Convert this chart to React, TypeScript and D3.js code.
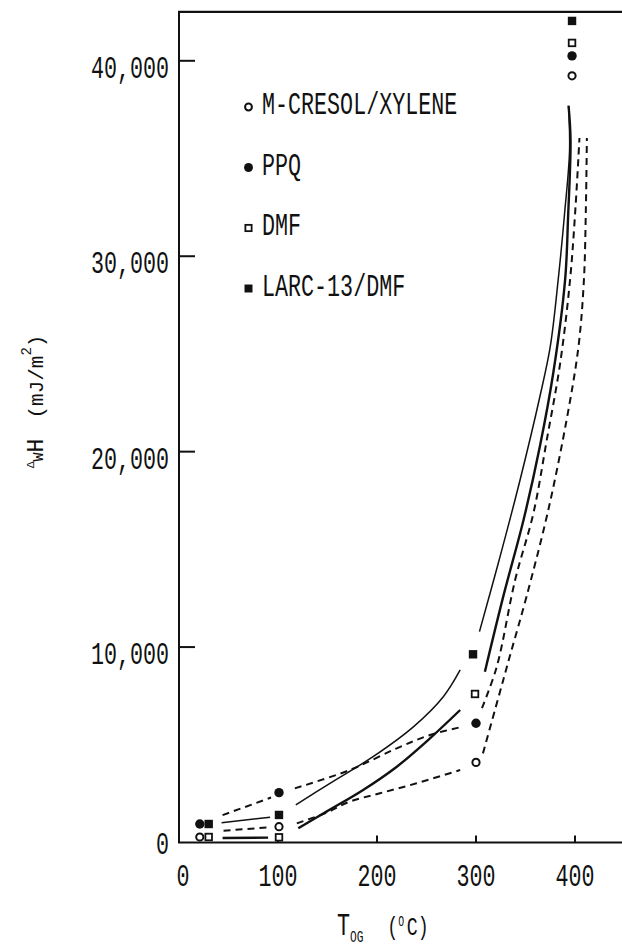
import React from "react";
import * as d3 from "d3";

// ---- data ----
const xTicks = [0, 100, 200, 300, 400];
const xTickLabels = ["0", "100", "200", "300", "400"];
const yTicks = [0, 10000, 20000, 30000, 40000];
const yTickLabels = ["0", "10,000", "20,000", "30,000", "40,000"];

const legendLabels = ["M-CRESOL/XYLENE", "PPQ", "DMF", "LARC-13/DMF"];
const legendKinds = ["openCircle", "filledCircle", "openSquare", "filledSquare"];

// measured points [T_OG, ΔwH]
const mCresolPts = [[21, 281], [101, 810], [300, 4100], [397, 39230]];
const ppqPts = [[21, 947], [101, 2550], [300, 6100], [397, 40250]];
const dmfPts = [[30, 281], [101, 265], [299, 7600], [397, 40915]];
const larcPts = [[30, 947], [101, 1410], [297, 9630], [397, 42040]];

// fitted curves, drawn as broken segments
const larcCurve = [
  [[43, 1013], [92, 1290]],
  [[118, 1920], [152.5, 3030], [196, 4390], [237, 5930], [267, 7460], [284, 8830]],
  [[303.5, 10790], [322.5, 14290], [344.5, 18550], [364.5, 22810], [375, 25370], [383, 28790], [389.5, 32200], [394.5, 35400], [393.5, 37700]],
];
const dmfCurve = [
  [[44, 230], [90, 250]],
  [[120.5, 725], [149, 1580], [186, 2690], [220, 3880], [253.5, 5330], [284, 6780]],
  [[309, 8740], [327.5, 12580], [348, 16500], [364.5, 20260], [378, 24010], [390, 28790], [393, 32000], [395.5, 35950], [393.5, 37700]],
];
const ppqCurve = [
  [[44, 1400], [93, 2300]],
  [[117, 2770], [172.5, 3710], [220, 4820], [253.5, 5500], [287, 5930]],
  [[306, 6870], [321, 9000], [339.5, 13430], [358, 16850], [371.5, 20600], [385, 24520], [395, 28790], [400.5, 32500], [404.5, 36050]],
];
const mCresolCurve = [
  [[45, 600], [92, 780]],
  [[119, 980], [149, 1530], [172.5, 2090], [203, 2520], [240, 3030], [284, 3710]],
  [[307, 4560], [322, 7300], [334, 9500], [351, 12580], [373, 17010], [391.5, 21620], [403.5, 25370], [409, 28790], [411, 32500], [412, 36050]],
];

const W = 622;
const H = 949;
const FONT = "'Liberation Mono', 'DejaVu Sans Mono', monospace";
const SX = 0.7;
const FS = 31;
const INK = "#111";

function Marker({ kind, cx, cy, s = 1 }: { kind: string; cx: number; cy: number; s?: number }) {
  if (kind === "openCircle")
    return <circle cx={cx} cy={cy} r={3.6 * s} fill="#fff" stroke={INK} strokeWidth={2} />;
  if (kind === "filledCircle") return <circle cx={cx} cy={cy} r={4.7 * s} fill={INK} />;
  if (kind === "openSquare") {
    const a = 6.6 * s;
    return <rect x={cx - a / 2} y={cy - a / 2} width={a} height={a} fill="#fff" stroke={INK} strokeWidth={1.8} />;
  }
  const a = 8.4 * s;
  return <rect x={cx - a / 2} y={cy - a / 2} width={a} height={a} fill={INK} />;
}

function Txt({ x, y, anchor = "start", size = FS, children }: any) {
  return (
    <text
      transform={`translate(${x},${y}) scale(${SX},1)`}
      textAnchor={anchor}
      fontFamily={FONT}
      fontSize={size}
      fill={INK}
    >
      {children}
    </text>
  );
}

export default function App() {
  const x = d3.scaleLinear().domain([0, 400]).range([179, 575]);
  const y = d3.scaleLinear().domain([0, 40000]).range([842.5, 60.8]);
  const yTop = y(42500);
  const xRight = W;

  const line = d3
    .line<number[]>()
    .x((d) => x(d[0]))
    .y((d) => y(d[1]))
    .curve(d3.curveCatmullRom.alpha(0.5));

  const curves = [
    { segs: larcCurve, width: 1.5, dash: undefined },
    { segs: dmfCurve, width: 2.4, dash: undefined },
    { segs: ppqCurve, width: 2, dash: "7,5" },
    { segs: mCresolCurve, width: 2, dash: "7,5" },
  ];
  const series = [
    { pts: mCresolPts, kind: "openCircle" },
    { pts: ppqPts, kind: "filledCircle" },
    { pts: dmfPts, kind: "openSquare" },
    { pts: larcPts, kind: "filledSquare" },
  ];

  return (
    <svg
      width={W}
      height={H}
      viewBox={`0 0 ${W} ${H}`}
      style={{ position: "absolute", left: 0, top: 0, background: "#fff" }}
    >
      <rect x={0} y={0} width={W} height={H} fill="#fff" />

      {/* frame / axes */}
      <line x1={x(0)} x2={x(0)} y1={yTop} y2={y(0)} stroke={INK} strokeWidth={2} />
      <line x1={x(0) - 1} x2={xRight} y1={y(0)} y2={y(0)} stroke={INK} strokeWidth={2} />
      <line x1={x(0) - 1} x2={xRight} y1={yTop} y2={yTop} stroke={INK} strokeWidth={2.2} />

      {/* y ticks */}
      {yTicks.map((t, i) => (
        <g key={"yt" + i}>
          {t !== 0 && <line x1={x(0)} x2={x(0) + 16} y1={y(t)} y2={y(t)} stroke={INK} strokeWidth={2} />}
          <Txt x={x(0) - 10} y={y(t) + (t === 0 ? 11 : 17)} anchor="end">
            {yTickLabels[i]}
          </Txt>
        </g>
      ))}

      {/* x ticks */}
      {xTicks.map((t, i) => (
        <g key={"xt" + i}>
          {t !== 0 && <line x1={x(t)} x2={x(t)} y1={y(0)} y2={y(0) - 7} stroke={INK} strokeWidth={2} />}
          <Txt x={x(t) + (t === 0 ? 4 : 0)} y={886} anchor="middle">
            {xTickLabels[i]}
          </Txt>
        </g>
      ))}

      {/* curves */}
      {curves.map((c, i) =>
        c.segs.map((seg, j) => (
          <path
            key={`c${i}-${j}`}
            d={line(seg) || ""}
            fill="none"
            stroke={INK}
            strokeWidth={c.width}
            strokeDasharray={c.dash}
            strokeLinecap="butt"
          />
        ))
      )}

      {/* markers */}
      {series.map((s, i) =>
        s.pts.map((p, j) => <Marker key={`m${i}-${j}`} kind={s.kind} cx={x(p[0])} cy={y(p[1])} />)
      )}

      {/* legend */}
      {legendLabels.map((lab, i) => {
        const my = 107 + i * 60.5;
        return (
          <g key={"lg" + i}>
            <Marker kind={legendKinds[i]} cx={248.5} cy={my} s={0.95} />
            <Txt x={262} y={my + 7}>
              {lab}
            </Txt>
          </g>
        );
      })}

      {/* x title */}
      <text transform={`translate(337,935) scale(${SX},1)`} fontFamily={FONT} fill={INK} fontSize={FS}>
        <tspan>T</tspan>
        <tspan fontSize={16} dy={7}>OG</tspan>
        <tspan fontSize={26} dy={-7} dx={34}>(</tspan>
        <tspan fontSize={14} dy={-9}>O</tspan>
        <tspan fontSize={26} dy={9} dx={4}>C)</tspan>
      </text>

      {/* y title */}
      <text transform="translate(43,468) rotate(-90)" fontFamily={FONT} fill={INK} fontSize={21}>
        <tspan fontSize={11} dy={-9}>Δ</tspan>
        <tspan fontSize={15} dy={9}>W</tspan>
        <tspan fontSize={23}>H</tspan>
        <tspan dx={20}>(mJ/m</tspan>
        <tspan fontSize={14} dy={-12}>2</tspan>
        <tspan dy={12}>)</tspan>
      </text>
    </svg>
  );
}
